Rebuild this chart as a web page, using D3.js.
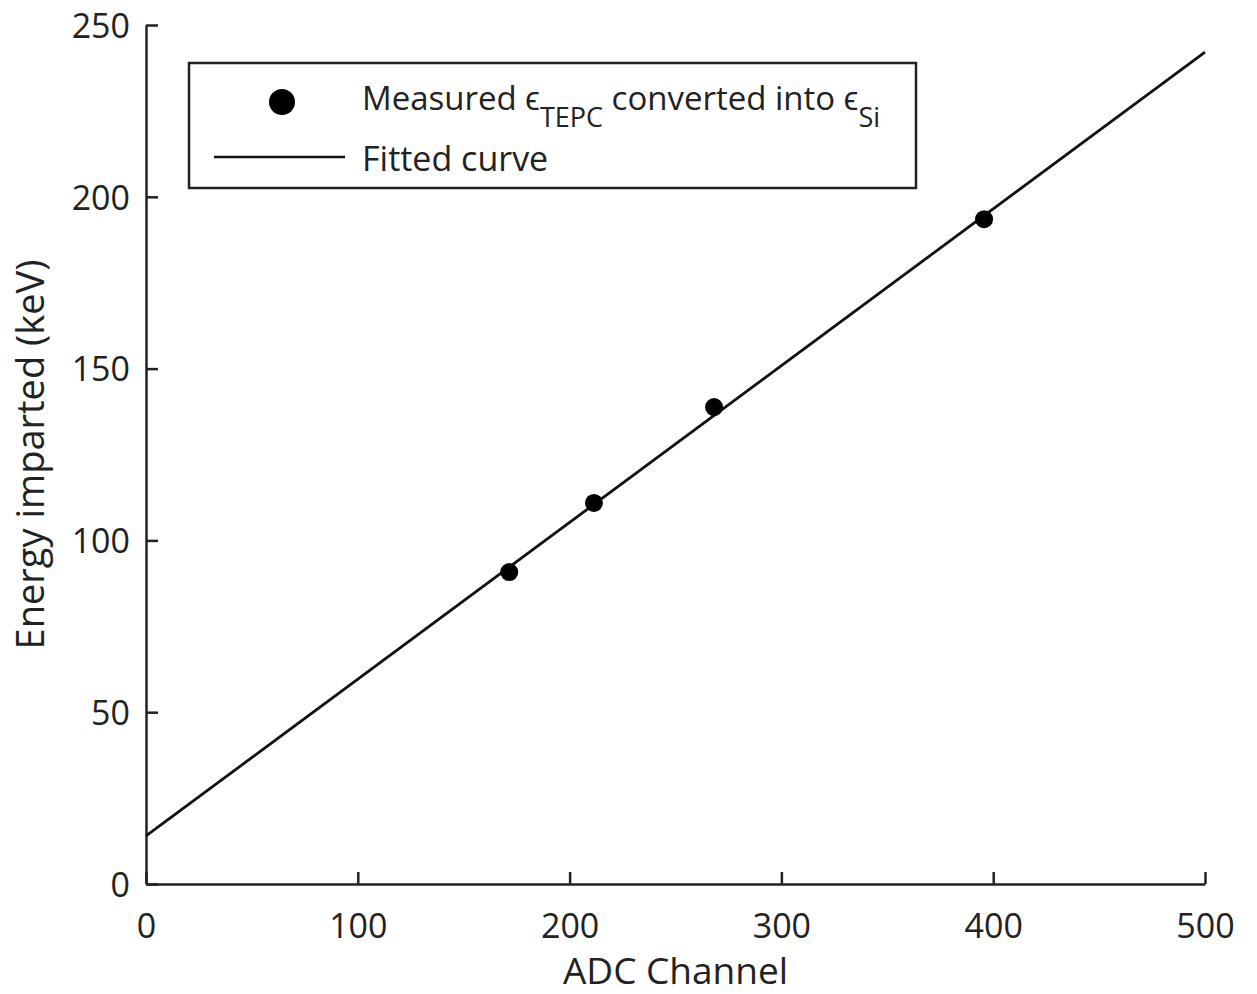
<!DOCTYPE html>
<html>
<head>
<meta charset="utf-8">
<script src="https://cdn.jsdelivr.net/npm/d3@7"></script>
<style>
  body { margin: 0; background: #fff; }
  text { font-family: "Open Sans", sans-serif; fill: #222; }
</style>
</head>
<body>
<svg id="chart"></svg>
<script>
// measured points
const adc = [171.5, 211.5, 268.2, 395.7];
const energy = [90.8, 110.9, 138.8, 193.5];
// fitted line endpoints
const fitX = [0, 500];
const fitY = [14, 242.1];
const xTicks = [0, 100, 200, 300, 400, 500];
const yTicks = [0, 50, 100, 150, 200, 250];

const width = 1257, height = 994;
const margin = { top: 25, right: 52, bottom: 110, left: 146 };

const svg = d3.select("#chart")
    .attr("width", width)
    .attr("height", height);

const x = d3.scaleLinear().domain([0, 500]).range([margin.left, width - margin.right]);
const y = d3.scaleLinear().domain([0, 250]).range([height - margin.bottom, margin.top]);

// axes, ticks pointing inward
const xAxis = svg.append("g")
    .attr("transform", `translate(0,${y(0)})`)
    .call(d3.axisTop(x).tickValues(xTicks).tickSize(12).tickSizeOuter(0).tickFormat(d3.format("d")));
xAxis.selectAll("text").remove();
xAxis.selectAll(".tick").append("text")
    .attr("y", 54)
    .attr("text-anchor", "middle")
    .style("font-size", "34px")
    .text(d => d);

const yAxis = svg.append("g")
    .attr("transform", `translate(${x(0)},0)`)
    .call(d3.axisRight(y).tickValues(yTicks).tickSize(12).tickSizeOuter(0));
yAxis.selectAll("text").remove();
yAxis.selectAll(".tick").append("text")
    .attr("x", -16)
    .attr("dy", "0.36em")
    .attr("text-anchor", "end")
    .style("font-size", "34px")
    .text(d => d);

svg.selectAll(".domain, .tick line")
    .attr("stroke", "#222")
    .attr("stroke-width", 2.5);

// fitted line
svg.append("line")
    .attr("x1", x(fitX[0])).attr("y1", y(fitY[0]))
    .attr("x2", x(fitX[1])).attr("y2", y(fitY[1]))
    .attr("stroke", "#111")
    .attr("stroke-width", 2.8);

// points
svg.selectAll(".pt")
    .data(adc)
    .enter()
    .append("circle")
    .attr("class", "pt")
    .attr("cx", d => x(d))
    .attr("cy", (d, i) => y(energy[i]))
    .attr("r", 9)
    .attr("fill", "#000");

// axis labels
svg.append("text")
    .attr("x", x(250))
    .attr("y", 984)
    .attr("text-anchor", "middle")
    .style("font-size", "37px")
    .text("ADC Channel");

svg.append("text")
    .attr("transform", `translate(44,${y(125)}) rotate(-90)`)
    .attr("text-anchor", "middle")
    .style("font-size", "38px")
    .text("Energy imparted (keV)");

// legend
const legend = svg.append("g");
legend.append("rect")
    .attr("x", 189).attr("y", 63)
    .attr("width", 727).attr("height", 125)
    .attr("fill", "#fff")
    .attr("stroke", "#222")
    .attr("stroke-width", 2.5);

legend.append("circle")
    .attr("cx", 282).attr("cy", 102)
    .attr("r", 13)
    .attr("fill", "#000");

legend.append("line")
    .attr("x1", 214).attr("x2", 345)
    .attr("y1", 157).attr("y2", 157)
    .attr("stroke", "#111")
    .attr("stroke-width", 2.5);

const t1 = legend.append("text")
    .attr("x", 362).attr("y", 110)
    .style("font-size", "33px");
t1.append("tspan").text("Measured \u03F5");
t1.append("tspan").attr("dy", 17).style("font-size", "27px").text("TEPC");
t1.append("tspan").attr("dy", -17).text(" converted into \u03F5");
t1.append("tspan").attr("dy", 17).style("font-size", "27px").text("Si");

legend.append("text")
    .attr("x", 362).attr("y", 171)
    .style("font-size", "34px")
    .text("Fitted curve");
</script>
</body>
</html>
